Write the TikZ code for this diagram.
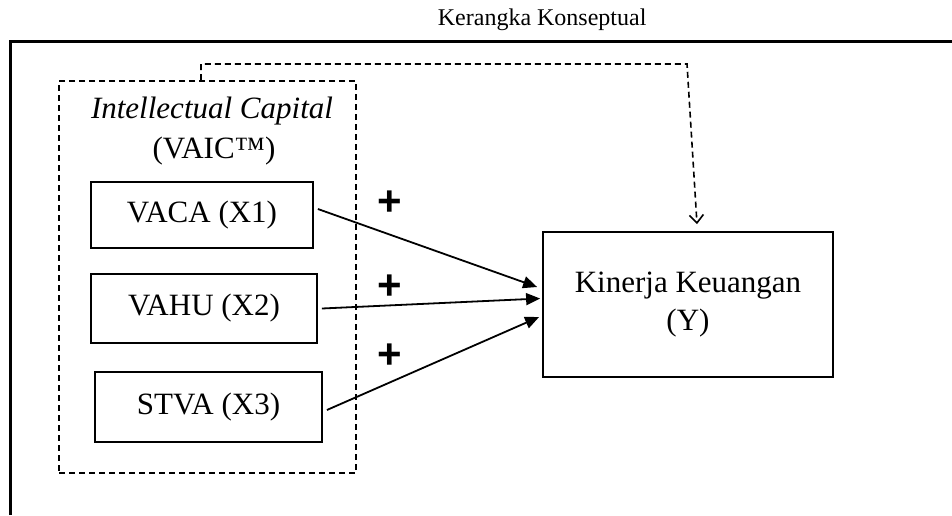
\documentclass[tikz,border=0pt]{standalone}
\usepackage{fontspec}
\setmainfont{Liberation Serif}
\newfontfamily\plusfont{Liberation Sans}
\usetikzlibrary{arrows.meta}

\begin{document}
\begin{tikzpicture}[x=1pt,y=-1pt,
  varbox/.style={draw,line width=1.8pt,inner sep=0pt,font=\fontsize{31}{38}\selectfont},
  groupbox/.style={draw,line width=1.6pt,dash pattern=on 6pt off 4pt,inner sep=0pt},
  arrowline/.style={line width=1.8pt,-{Triangle[length=14pt,width=12pt]}},
  dashline/.style={line width=1.6pt,dash pattern=on 6pt off 4pt,-{Straight Barb[length=8pt,width=14pt]}},
  plussign/.style={font=\plusfont\bfseries\fontsize{42}{42}\selectfont,inner sep=0pt}]
\useasboundingbox (0,0) rectangle (952,515);

\node[anchor=base east,font=\fontsize{24}{28}\selectfont] (title) at (650,25) {Kerangka Konseptual};

% frame
\coordinate (fbl) at (10,515);
\coordinate (ftl) at (10,41);
\coordinate (ftr) at (952,41);
\draw[line width=3pt] (fbl) -- (ftl) -- (ftr);

% intellectual capital group
\node[groupbox,minimum width=297pt,minimum height=392pt] (ic) at (207.5,277) {};
\node[anchor=base,font=\fontsize{31}{38}\selectfont\itshape] (icname) at (212,118) {Intellectual Capital};
\node[anchor=base,font=\fontsize{31}{38}\selectfont] (icvaic) at (214,158) {(VAIC™)};

\node[varbox,minimum width=222pt,minimum height=66pt] (vaca) at (202,215) {VACA (X1)};
\node[varbox,minimum width=226pt,minimum height=69pt] (vahu) at (204,308.5) {VAHU (X2)};
\node[varbox,minimum width=227pt,minimum height=70pt] (stva) at (208.5,407) {STVA (X3)};

\node[varbox,minimum width=290pt,minimum height=145pt,align=center] (kin) at (688,304.5) {Kinerja Keuangan\\(Y)};

% arrows
\draw[arrowline] ([shift={(4,-6)}]vaca.east) -- ([shift={(-5,-17.5)}]kin.west);
\draw[arrowline] ([shift={(4,0)}]vahu.east) -- ([shift={(-2,-6)}]kin.west);
\draw[arrowline] ([shift={(4,3)}]stva.east) -- ([shift={(-3,12.5)}]kin.west);

\node[plussign] (p1) at (390,203) {+};
\node[plussign] (p2) at (390,287) {+};
\node[plussign] (p3) at (390,356) {+};

\coordinate (bend) at (687,64);
\draw[dashline] ([xshift=-6.5pt]ic.north) |- (bend) -- ([shift={(9,-7)}]kin.north);

\end{tikzpicture}
\end{document}
